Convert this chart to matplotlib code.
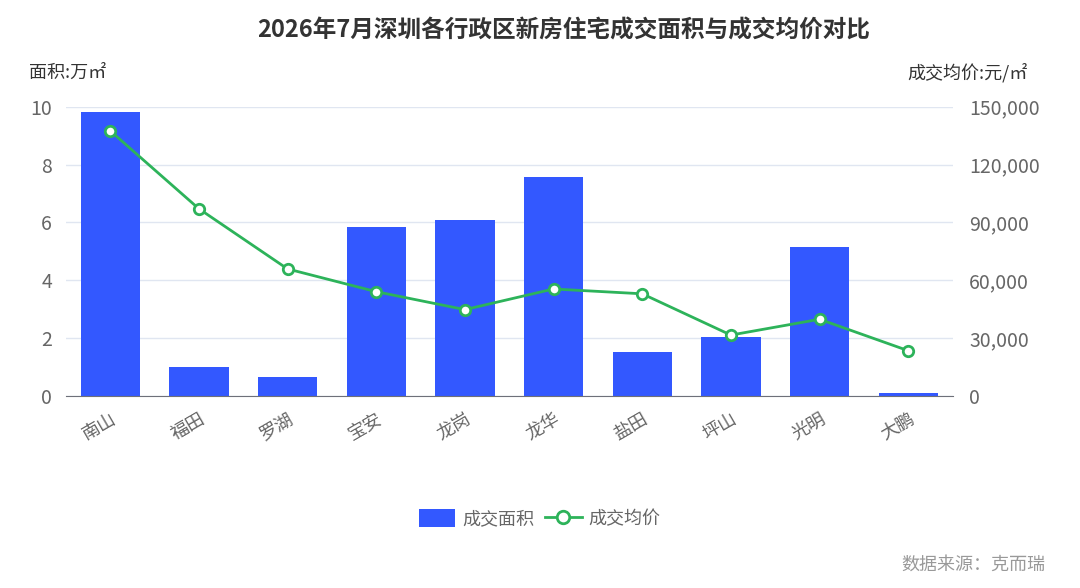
import matplotlib.pyplot as plt
import numpy as np
from matplotlib.ticker import FuncFormatter
from matplotlib.lines import Line2D
from matplotlib.patches import Patch

plt.rcParams['font.family'] = ['Noto Sans CJK SC', 'DejaVu Sans']

# 数据
districts = ['南山', '福田', '罗湖', '宝安', '龙岗', '龙华', '盐田', '坪山', '光明', '大鹏']
area = [9.82, 0.99, 0.67, 5.85, 6.08, 7.56, 1.53, 2.05, 5.15, 0.09]          # 万㎡
price = [137500, 97100, 65900, 54100, 44800, 55500, 53000, 31600, 39800, 23500]  # 元/㎡

bar_color = '#3358FF'
line_color = '#2DB35A'
text_color = '#666666'

fig = plt.figure(figsize=(10.8, 5.88), dpi=100)
ax = fig.add_axes([0.061, 0.3265, 0.821, 0.492])
x = np.arange(len(districts))

ax.bar(x, area, width=0.67, color=bar_color, zorder=2)
ax.set_xlim(-0.5, len(districts) - 0.5)
ax.set_ylim(0, 10)
ax.set_yticks([0, 2, 4, 6, 8, 10])
ax.grid(axis='y', color='#E0E6F1', linewidth=1, zorder=0)
ax.set_xticks(x)
ax.set_xticklabels(districts, rotation=30, ha='right', rotation_mode='anchor')
ax.tick_params(axis='x', length=0, pad=10, labelsize=13, labelcolor=text_color)
ax.tick_params(axis='y', length=0, pad=10, labelsize=14, labelcolor=text_color)
for s in ['top', 'right', 'left']:
    ax.spines[s].set_visible(False)
ax.spines['bottom'].set_color('#6E7079')
ax.spines['bottom'].set_zorder(3)

ax2 = ax.twinx()
ax2.plot(x, price, color=line_color, linewidth=2, marker='o', markersize=7.5,
         markerfacecolor='white', markeredgecolor=line_color, markeredgewidth=2, zorder=4)
ax2.set_ylim(0, 150000)
ax2.set_yticks([0, 30000, 60000, 90000, 120000, 150000])
ax2.yaxis.set_major_formatter(FuncFormatter(lambda v, p: f'{int(v):,}'))
ax2.tick_params(axis='y', length=0, pad=12, labelsize=14, labelcolor=text_color)
for s in ax2.spines.values():
    s.set_visible(False)

# 标题和轴名
fig.text(0.522, 0.948, '2026年7月深圳各行政区新房住宅成交面积与成交均价对比',
         ha='center', va='center', fontsize=17, fontweight='bold', color='#333333')
fig.text(0.027, 0.876, '面积:万㎡', ha='left', va='center', fontsize=13, color='#333333')
fig.text(0.951, 0.876, '成交均价:元/㎡', ha='right', va='center', fontsize=13, color='#333333')

# 图例
handles = [Patch(facecolor=bar_color, edgecolor='none'),
           Line2D([0], [0], color=line_color, linewidth=2, marker='o', markersize=9,
                  markerfacecolor='white', markeredgecolor=line_color, markeredgewidth=2)]
fig.legend(handles, ['成交面积', '成交均价'], loc='center', bbox_to_anchor=(0.5, 0.118),
           ncol=2, frameon=False, fontsize=13, labelcolor=text_color,
           handlelength=2.0, handleheight=1.1, columnspacing=0.6, handletextpad=0.4)

fig.text(0.968, 0.04, '数据来源：克而瑞', ha='right', va='center', fontsize=13, color='#999999')

fig.savefig('out.png', dpi=100)
